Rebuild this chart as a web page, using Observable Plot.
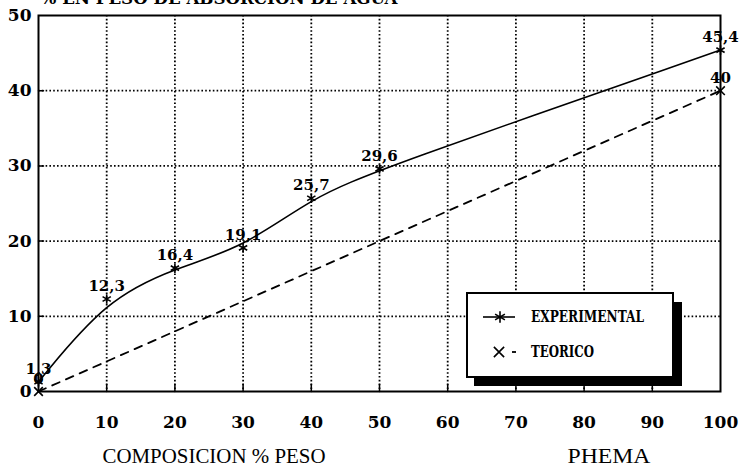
<!DOCTYPE html>
<html>
<head>
<meta charset="utf-8">
<script src="https://cdn.jsdelivr.net/npm/d3@7"></script>
<script src="https://cdn.jsdelivr.net/npm/@observablehq/plot@0.6"></script>
<style>
  html, body { margin: 0; padding: 0; background: white; }
  #wrap { position: relative; width: 744px; height: 466px; overflow: hidden; }
</style>
</head>
<body>
<div id="wrap"></div>
<script>
// ---- data ----
const composicion = [0, 10, 20, 30, 40, 50, 100];
const experimental = [1.3, 12.3, 16.4, 19.1, 25.7, 29.6, 45.4];
const teoricoX = [0, 100];
const teorico = [0, 40];
const xTicks = [0, 10, 20, 30, 40, 50, 60, 70, 80, 90, 100];
const yTicks = [0, 10, 20, 30, 40, 50];
const seriesNames = ["EXPERIMENTAL", "TEORICO"];
const titleText = "% EN PESO DE ABSORCION DE AGUA";
const xTitleLeft = "COMPOSICION % PESO";
const xTitleRight = "PHEMA";

const fmt = v => String(v).replace(".", ",");
const expData = composicion.map((x, i) => ({x, y: experimental[i]}));
const teoData = teoricoX.map((x, i) => ({x, y: teorico[i]}));
const innerX = xTicks.filter(d => d > 0 && d < 100);
const innerY = yTicks.filter(d => d > 0 && d < 50);

const SERIF = "'DejaVu Serif', 'Liberation Serif', serif";
const stick = {draw(context, l) { context.moveTo(0, 0); context.lineTo(0, -l); }};

const chart = Plot.plot({
  width: 744,
  height: 466,
  marginLeft: 38,
  marginRight: 24,
  marginTop: 15,
  marginBottom: 75,
  x: {domain: [0, 100]},
  y: {domain: [0, 50]},
  style: {fontFamily: SERIF, background: "white", color: "black", overflow: "visible"},
  marks: [
    Plot.gridX(innerX, {stroke: "black", strokeOpacity: 1, strokeWidth: 1.8, strokeDasharray: "1.6,2.2"}),
    Plot.gridY(innerY, {stroke: "black", strokeOpacity: 1, strokeWidth: 1.8, strokeDasharray: "1.6,2.2"}),
    Plot.vector(innerX, {x: d => d, frameAnchor: "bottom", length: 7, rotate: 0, anchor: "start", shape: stick, stroke: "black", strokeWidth: 1.5}),
    Plot.vector(innerY, {y: d => d, frameAnchor: "left", length: 5, rotate: 90, anchor: "start", shape: stick, stroke: "black", strokeWidth: 1.5}),
    Plot.axisX({ticks: xTicks, tickSize: 0, tickPadding: 24, fontSize: 17, fontWeight: "bold", label: null, tickFormat: d => String(d)}),
    Plot.axisY({ticks: yTicks, tickSize: 0, tickPadding: 7, fontSize: 17, fontWeight: "bold", label: null, tickFormat: d => String(d)}),
    Plot.frame({stroke: "black", strokeWidth: 2}),
    Plot.line(teoData, {x: "x", y: "y", stroke: "black", strokeWidth: 1.8, strokeDasharray: "8,7"}),
    Plot.line(expData, {x: "x", y: "y", curve: "basis", stroke: "black", strokeWidth: 1.6}),
    Plot.dot(expData, {x: "x", y: "y", symbol: "asterisk", r: 4.5, stroke: "black", strokeWidth: 1.6}),
    Plot.dot(teoData, {x: "x", y: "y", symbol: "times", r: 4, stroke: "black", strokeWidth: 1.6}),
    Plot.text(expData, {x: "x", y: "y", text: d => fmt(d.y), dy: -8, lineAnchor: "bottom", fontSize: 15, fontWeight: "bold"}),
    Plot.text(teoData, {x: "x", y: "y", text: d => fmt(d.y), dy: -8, lineAnchor: "bottom", fontSize: 15, fontWeight: "bold"}),
    Plot.text([titleText], {frameAnchor: "top-left", dx: 2, dy: -12, lineAnchor: "bottom", textAnchor: "start", fontSize: 17, fontWeight: "bold"}),
    Plot.text([xTitleLeft], {frameAnchor: "bottom-left", dx: 64, dy: 71, lineAnchor: "bottom", textAnchor: "start", fontSize: 21, fontFamily: "'Liberation Serif', serif"}),
    Plot.text([xTitleRight], {frameAnchor: "bottom-left", dx: 529, dy: 71, lineAnchor: "bottom", textAnchor: "start", fontSize: 21, fontFamily: "'Liberation Serif', serif"})
  ]
});

const wrap = document.getElementById("wrap");
wrap.append(chart);

// stretch texts to the reference widths
const widths = {[titleText]: 357, [xTitleLeft]: 223, [xTitleRight]: 83};
d3.select(chart).selectAll("text").each(function() {
  const t = this.textContent;
  if (widths[t]) d3.select(this).attr("textLength", widths[t]).attr("lengthAdjust", "spacingAndGlyphs");
});

// ---- legend (boxed, with drop shadow) ----
const leg = d3.create("svg")
  .attr("width", 744).attr("height", 466)
  .style("position", "absolute").style("left", "0px").style("top", "0px")
  .style("pointer-events", "none");
leg.append("rect").attr("x", 474).attr("y", 302).attr("width", 208).attr("height", 84).attr("fill", "black");
leg.append("rect").attr("x", 467).attr("y", 293).attr("width", 206).attr("height", 84)
  .attr("fill", "white").attr("stroke", "black").attr("stroke-width", 2);
// experimental sample
leg.append("line").attr("x1", 483).attr("x2", 515).attr("y1", 317).attr("y2", 317).attr("stroke", "black").attr("stroke-width", 1.6);
leg.append("path").attr("d", d3.symbol(d3.symbolAsterisk, 90)()).attr("transform", "translate(500,317)")
  .attr("fill", "none").attr("stroke", "black").attr("stroke-width", 1.6);
// teorico sample
leg.append("path").attr("d", d3.symbol(d3.symbolTimes, 70)()).attr("transform", "translate(499,352)")
  .attr("fill", "none").attr("stroke", "black").attr("stroke-width", 1.6);
leg.append("line").attr("x1", 512).attr("x2", 516).attr("y1", 352).attr("y2", 352).attr("stroke", "black").attr("stroke-width", 1.8);
const lt = [[seriesNames[0], 322, 113], [seriesNames[1], 357, 63]];
for (const [t, y, w] of lt) {
  leg.append("text").attr("x", 531).attr("y", y).text(t)
    .attr("font-family", SERIF).attr("font-weight", "bold").attr("font-size", 17)
    .attr("textLength", w).attr("lengthAdjust", "spacingAndGlyphs");
}
wrap.append(leg.node());
</script>
</body>
</html>
